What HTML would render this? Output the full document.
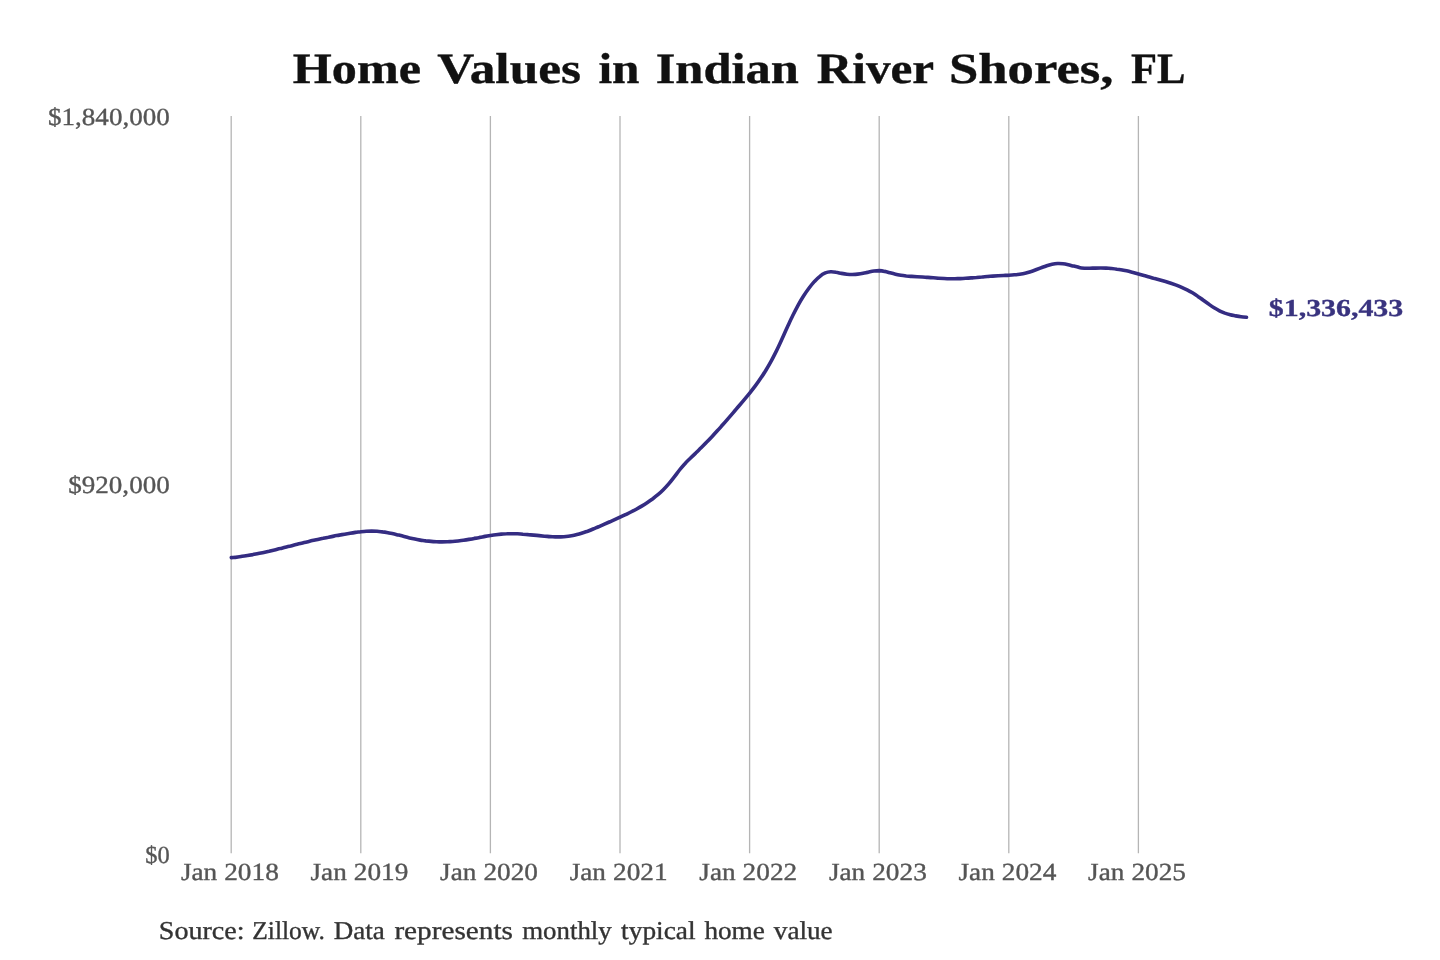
<!DOCTYPE html>
<html lang="en">
<head>
<meta charset="utf-8">
<title>Home Values in Indian River Shores, FL</title>
<style>
html,body{margin:0;padding:0;background:#fff;}
body{width:1440px;height:960px;overflow:hidden;font-family:"Liberation Serif",serif;}
svg{display:block;font-family:"Liberation Serif",serif;}
text{text-rendering:geometricPrecision;}
.t{filter:opacity(1);}
</style>
</head>
<body>
<svg width="1440" height="960" viewBox="0 0 1440 960">
<rect width="1440" height="960" fill="#ffffff"/>

<g stroke="#b5b5b5" stroke-width="1.3">
<line x1="231.2" y1="116" x2="231.2" y2="853.2"/>
<line x1="360.8" y1="116" x2="360.8" y2="853.2"/>
<line x1="490.4" y1="116" x2="490.4" y2="853.2"/>
<line x1="620.0" y1="116" x2="620.0" y2="853.2"/>
<line x1="749.6" y1="116" x2="749.6" y2="853.2"/>
<line x1="879.2" y1="116" x2="879.2" y2="853.2"/>
<line x1="1008.8" y1="116" x2="1008.8" y2="853.2"/>
<line x1="1138.4" y1="116" x2="1138.4" y2="853.2"/>
</g>
<g class="t">
<text y="82.8" font-size="43.2" font-weight="bold" fill="#111111" stroke="#111111" stroke-width="0.35"><tspan x="292.8" textLength="128.2" lengthAdjust="spacingAndGlyphs">Home</tspan> <tspan x="437.3" textLength="143.7" lengthAdjust="spacingAndGlyphs">Values</tspan> <tspan x="598.4" textLength="41.1" lengthAdjust="spacingAndGlyphs">in</tspan> <tspan x="655.7" textLength="143.2" lengthAdjust="spacingAndGlyphs">Indian</tspan> <tspan x="816.7" textLength="116.6" lengthAdjust="spacingAndGlyphs">River</tspan> <tspan x="949.0" textLength="164.5" lengthAdjust="spacingAndGlyphs">Shores,</tspan> <tspan x="1131.0" textLength="54.5" lengthAdjust="spacingAndGlyphs">FL</tspan></text>
</g>
<g class="t">
<text y="124.6" font-size="24.6" font-weight="normal" fill="#555555" stroke="#555555" stroke-width="0.35"><tspan x="48.0" textLength="121.8" lengthAdjust="spacingAndGlyphs">$1,840,000</tspan></text>
<text y="492.6" font-size="24.6" font-weight="normal" fill="#555555" stroke="#555555" stroke-width="0.35"><tspan x="68.2" textLength="101.6" lengthAdjust="spacingAndGlyphs">$920,000</tspan></text>
<text y="863.3" font-size="24.6" font-weight="normal" fill="#555555" stroke="#555555" stroke-width="0.35"><tspan x="145.3" textLength="24.5" lengthAdjust="spacingAndGlyphs">$0</tspan></text>
</g>
<g class="t">
<text y="879.6" font-size="24.6" font-weight="normal" fill="#555555" stroke="#555555" stroke-width="0.35"><tspan x="180.9" textLength="36.3" lengthAdjust="spacingAndGlyphs">Jan</tspan> <tspan x="224.2" textLength="54.6" lengthAdjust="spacingAndGlyphs">2018</tspan></text>
<text y="879.6" font-size="24.6" font-weight="normal" fill="#555555" stroke="#555555" stroke-width="0.35"><tspan x="310.5" textLength="36.3" lengthAdjust="spacingAndGlyphs">Jan</tspan> <tspan x="353.8" textLength="54.6" lengthAdjust="spacingAndGlyphs">2019</tspan></text>
<text y="879.6" font-size="24.6" font-weight="normal" fill="#555555" stroke="#555555" stroke-width="0.35"><tspan x="440.1" textLength="36.3" lengthAdjust="spacingAndGlyphs">Jan</tspan> <tspan x="483.4" textLength="54.6" lengthAdjust="spacingAndGlyphs">2020</tspan></text>
<text y="879.6" font-size="24.6" font-weight="normal" fill="#555555" stroke="#555555" stroke-width="0.35"><tspan x="569.7" textLength="36.3" lengthAdjust="spacingAndGlyphs">Jan</tspan> <tspan x="613.0" textLength="54.6" lengthAdjust="spacingAndGlyphs">2021</tspan></text>
<text y="879.6" font-size="24.6" font-weight="normal" fill="#555555" stroke="#555555" stroke-width="0.35"><tspan x="699.3" textLength="36.3" lengthAdjust="spacingAndGlyphs">Jan</tspan> <tspan x="742.6" textLength="54.6" lengthAdjust="spacingAndGlyphs">2022</tspan></text>
<text y="879.6" font-size="24.6" font-weight="normal" fill="#555555" stroke="#555555" stroke-width="0.35"><tspan x="828.9" textLength="36.3" lengthAdjust="spacingAndGlyphs">Jan</tspan> <tspan x="872.2" textLength="54.6" lengthAdjust="spacingAndGlyphs">2023</tspan></text>
<text y="879.6" font-size="24.6" font-weight="normal" fill="#555555" stroke="#555555" stroke-width="0.35"><tspan x="958.5" textLength="36.3" lengthAdjust="spacingAndGlyphs">Jan</tspan> <tspan x="1001.8" textLength="54.6" lengthAdjust="spacingAndGlyphs">2024</tspan></text>
<text y="879.6" font-size="24.6" font-weight="normal" fill="#555555" stroke="#555555" stroke-width="0.35"><tspan x="1088.1" textLength="36.3" lengthAdjust="spacingAndGlyphs">Jan</tspan> <tspan x="1131.4" textLength="54.6" lengthAdjust="spacingAndGlyphs">2025</tspan></text>
</g>
<path d="M231.3 557.6C232.2 557.5 234.9 557.3 236.7 557.1C238.5 556.8 240.3 556.6 242.1 556.3C243.9 556.1 245.7 555.8 247.5 555.5C249.3 555.2 251.1 554.9 252.9 554.6C254.7 554.2 256.5 553.9 258.3 553.5C260.1 553.1 261.9 552.8 263.7 552.4C265.5 552.0 267.3 551.6 269.1 551.2C270.9 550.7 272.7 550.3 274.5 549.9C276.3 549.5 278.1 549.0 279.9 548.6C281.7 548.1 283.5 547.7 285.3 547.2C287.1 546.8 288.9 546.3 290.7 545.9C292.5 545.4 294.3 545.0 296.1 544.5C297.9 544.1 299.7 543.6 301.5 543.2C303.3 542.8 305.1 542.3 306.9 541.9C308.7 541.5 310.5 541.0 312.3 540.6C314.1 540.2 315.9 539.8 317.7 539.4C319.5 539.0 321.3 538.6 323.1 538.3C324.9 537.9 326.7 537.5 328.5 537.2C330.3 536.8 332.1 536.4 333.9 536.1C335.7 535.8 337.5 535.4 339.3 535.1C341.1 534.8 342.9 534.5 344.7 534.2C346.5 533.9 348.3 533.6 350.1 533.3C351.9 533.0 353.7 532.7 355.5 532.4C357.3 532.2 359.1 531.9 360.9 531.7C362.7 531.5 364.5 531.3 366.3 531.2C368.1 531.1 369.9 531.1 371.7 531.1C373.5 531.1 375.3 531.2 377.1 531.3C378.9 531.5 380.7 531.6 382.5 531.9C384.3 532.1 386.1 532.4 387.9 532.7C389.7 533.1 391.5 533.4 393.3 533.8C395.1 534.2 396.9 534.7 398.7 535.1C400.5 535.6 402.3 536.1 404.1 536.5C405.9 537.0 407.7 537.5 409.5 537.9C411.3 538.3 413.1 538.7 414.9 539.1C416.7 539.5 418.5 539.8 420.3 540.1C422.1 540.4 423.9 540.6 425.7 540.9C427.5 541.1 429.3 541.3 431.1 541.4C432.9 541.6 434.7 541.7 436.5 541.8C438.3 541.8 440.1 541.9 441.9 541.9C443.7 541.9 445.5 541.9 447.3 541.8C449.1 541.7 450.9 541.6 452.7 541.5C454.5 541.4 456.3 541.2 458.1 541.0C459.9 540.8 461.7 540.6 463.5 540.3C465.3 540.0 467.1 539.7 468.9 539.4C470.7 539.1 472.5 538.8 474.3 538.4C476.1 538.1 477.9 537.8 479.7 537.4C481.5 537.1 483.3 536.7 485.1 536.4C486.9 536.1 488.7 535.8 490.5 535.5C492.3 535.2 494.1 534.9 495.9 534.7C497.7 534.5 499.5 534.3 501.3 534.1C503.1 534.0 504.9 533.8 506.7 533.8C508.5 533.7 510.3 533.7 512.1 533.7C513.9 533.7 515.7 533.8 517.5 533.8C519.3 533.9 521.1 534.0 522.9 534.2C524.7 534.3 526.5 534.4 528.3 534.6C530.1 534.7 531.9 534.9 533.7 535.1C535.5 535.3 537.3 535.5 539.1 535.6C540.9 535.8 542.7 536.0 544.5 536.2C546.3 536.3 548.1 536.5 549.9 536.6C551.7 536.7 553.5 536.8 555.3 536.9C557.1 536.9 558.9 536.9 560.7 536.9C562.5 536.8 564.3 536.7 566.1 536.5C567.9 536.4 569.7 536.1 571.5 535.8C573.3 535.5 575.1 535.1 576.9 534.6C578.7 534.2 580.5 533.6 582.3 533.0C584.1 532.5 585.9 531.8 587.7 531.2C589.5 530.5 591.3 529.8 593.1 529.0C594.9 528.3 596.7 527.5 598.5 526.8C600.3 526.0 602.1 525.2 603.9 524.4C605.7 523.6 607.5 522.8 609.3 522.0C611.1 521.2 612.9 520.5 614.7 519.7C616.5 518.9 618.3 518.1 620.1 517.2C621.9 516.4 623.7 515.6 625.5 514.7C627.3 513.8 629.1 513.0 630.9 512.0C632.7 511.1 634.5 510.2 636.3 509.2C638.1 508.2 639.9 507.2 641.7 506.1C643.5 505.0 645.3 503.9 647.1 502.7C648.9 501.5 650.7 500.3 652.5 499.0C654.3 497.6 656.1 496.2 657.9 494.7C659.7 493.2 661.5 491.5 663.3 489.7C665.1 487.9 666.9 486.0 668.7 483.9C670.5 481.8 672.3 479.4 674.1 477.1C675.9 474.8 677.7 472.3 679.5 470.0C681.3 467.8 683.1 465.6 684.9 463.7C686.7 461.7 688.5 460.0 690.3 458.3C692.1 456.5 693.9 454.8 695.7 453.1C697.5 451.3 699.3 449.6 701.1 447.8C702.9 446.0 704.7 444.2 706.5 442.3C708.3 440.5 710.1 438.6 711.9 436.7C713.7 434.8 715.5 432.8 717.3 430.8C719.1 428.9 720.9 426.8 722.7 424.8C724.5 422.8 726.3 420.7 728.1 418.6C729.9 416.6 731.7 414.5 733.5 412.4C735.3 410.3 737.1 408.1 738.9 406.0C740.7 403.9 742.5 401.8 744.3 399.6C746.1 397.5 747.9 395.3 749.7 393.1C751.5 390.9 753.3 388.6 755.1 386.2C756.9 383.8 758.7 381.3 760.5 378.6C762.3 376.0 764.1 373.2 765.9 370.2C767.7 367.3 769.5 364.2 771.3 360.9C773.1 357.6 774.9 354.0 776.7 350.4C778.5 346.7 780.3 342.7 782.1 338.8C783.9 334.8 785.7 330.7 787.5 326.8C789.3 322.9 791.1 318.9 792.9 315.3C794.7 311.6 796.5 308.1 798.3 304.8C800.1 301.6 801.9 298.6 803.7 295.8C805.5 293.0 807.3 290.4 809.1 288.0C810.9 285.6 812.7 283.4 814.5 281.4C816.3 279.5 818.1 277.7 819.9 276.3C821.7 274.8 823.5 273.7 825.3 272.9C827.1 272.2 828.9 271.9 830.7 271.8C832.5 271.7 834.3 272.0 836.1 272.3C837.9 272.5 839.7 273.1 841.5 273.4C843.3 273.7 845.1 274.0 846.9 274.2C848.7 274.4 850.5 274.5 852.3 274.5C854.1 274.4 855.9 274.3 857.7 274.1C859.5 273.9 861.3 273.6 863.1 273.2C864.9 272.9 866.7 272.4 868.5 272.1C870.3 271.7 872.1 271.2 873.9 271.0C875.7 270.8 877.5 270.6 879.3 270.6C881.1 270.7 882.9 271.0 884.7 271.4C886.5 271.7 888.3 272.3 890.1 272.8C891.9 273.3 893.7 273.8 895.5 274.2C897.3 274.7 899.1 275.0 900.9 275.3C902.7 275.6 904.5 275.8 906.3 276.0C908.1 276.1 909.9 276.3 911.7 276.4C913.5 276.5 915.3 276.6 917.1 276.7C918.9 276.8 920.7 276.9 922.5 277.0C924.3 277.1 926.1 277.3 927.9 277.4C929.7 277.5 931.5 277.7 933.3 277.8C935.1 277.9 936.9 278.1 938.7 278.2C940.5 278.3 942.3 278.4 944.1 278.5C945.9 278.6 947.7 278.7 949.5 278.7C951.3 278.7 953.1 278.7 954.9 278.7C956.7 278.7 958.5 278.6 960.3 278.6C962.1 278.5 963.9 278.4 965.7 278.3C967.5 278.2 969.3 278.0 971.1 277.9C972.9 277.8 974.7 277.6 976.5 277.5C978.3 277.3 980.1 277.1 981.9 277.0C983.7 276.8 985.5 276.7 987.3 276.5C989.1 276.4 990.9 276.2 992.7 276.1C994.5 276.0 996.3 275.9 998.1 275.8C999.9 275.7 1001.7 275.6 1003.5 275.5C1005.3 275.4 1007.1 275.4 1008.9 275.2C1010.7 275.1 1012.5 275.0 1014.3 274.8C1016.1 274.7 1017.9 274.5 1019.7 274.2C1021.5 273.9 1023.3 273.6 1025.1 273.2C1026.9 272.8 1028.7 272.3 1030.5 271.7C1032.3 271.2 1034.1 270.5 1035.9 269.8C1037.7 269.1 1039.5 268.4 1041.3 267.7C1043.1 267.1 1044.9 266.4 1046.7 265.8C1048.5 265.2 1050.3 264.7 1052.1 264.3C1053.9 263.9 1055.7 263.6 1057.5 263.5C1059.3 263.4 1061.1 263.5 1062.9 263.7C1064.7 263.9 1066.5 264.3 1068.3 264.7C1070.1 265.1 1071.9 265.7 1073.7 266.1C1075.5 266.6 1077.3 267.1 1079.1 267.4C1080.9 267.8 1082.7 268.0 1084.5 268.2C1086.3 268.3 1088.1 268.2 1089.9 268.2C1091.7 268.2 1093.5 268.1 1095.3 268.1C1097.1 268.0 1098.9 268.0 1100.7 268.0C1102.5 268.0 1104.3 268.0 1106.1 268.1C1107.9 268.2 1109.7 268.4 1111.5 268.5C1113.3 268.7 1115.1 268.9 1116.9 269.2C1118.7 269.4 1120.5 269.7 1122.3 270.0C1124.1 270.4 1125.9 270.7 1127.7 271.1C1129.5 271.5 1131.3 272.0 1133.1 272.4C1134.9 272.9 1136.7 273.4 1138.5 273.9C1140.3 274.4 1142.1 274.9 1143.9 275.4C1145.7 275.9 1147.5 276.5 1149.3 277.0C1151.1 277.5 1152.9 278.0 1154.7 278.6C1156.5 279.1 1158.3 279.6 1160.1 280.1C1161.9 280.6 1163.7 281.1 1165.5 281.6C1167.3 282.1 1169.1 282.7 1170.9 283.3C1172.7 283.9 1174.5 284.5 1176.3 285.1C1178.1 285.8 1179.9 286.5 1181.7 287.3C1183.5 288.1 1185.3 288.9 1187.1 289.8C1188.9 290.7 1190.7 291.7 1192.5 292.8C1194.3 293.9 1196.1 295.1 1197.9 296.4C1199.7 297.6 1201.5 299.0 1203.3 300.2C1205.1 301.5 1206.9 302.9 1208.7 304.1C1210.5 305.4 1212.3 306.7 1214.1 307.8C1215.9 308.9 1217.7 309.9 1219.5 310.8C1221.3 311.7 1223.1 312.4 1224.9 313.1C1226.7 313.7 1228.5 314.2 1230.3 314.7C1232.1 315.2 1233.9 315.5 1235.7 315.9C1237.5 316.2 1239.3 316.5 1241.1 316.7C1242.9 316.9 1245.6 317.2 1246.5 317.3" fill="none" stroke="#342c82" stroke-width="3.6" stroke-linecap="round" stroke-linejoin="round"/>
<g class="t">
<text y="316.3" font-size="24.4" font-weight="bold" fill="#39337f" stroke="#39337f" stroke-width="0.35"><tspan x="1268.8" textLength="134.4" lengthAdjust="spacingAndGlyphs">$1,336,433</tspan></text>
</g>
<g class="t">
<text y="938.9" font-size="25.6" font-weight="normal" fill="#333333" stroke="#333333" stroke-width="0.35"><tspan x="158.8" textLength="85.8" lengthAdjust="spacingAndGlyphs">Source:</tspan> <tspan x="252.3" textLength="72.7" lengthAdjust="spacingAndGlyphs">Zillow.</tspan> <tspan x="333.8" textLength="51.1" lengthAdjust="spacingAndGlyphs">Data</tspan> <tspan x="394.4" textLength="118.5" lengthAdjust="spacingAndGlyphs">represents</tspan> <tspan x="522.2" textLength="89.6" lengthAdjust="spacingAndGlyphs">monthly</tspan> <tspan x="621.1" textLength="74.5" lengthAdjust="spacingAndGlyphs">typical</tspan> <tspan x="704.4" textLength="60.5" lengthAdjust="spacingAndGlyphs">home</tspan> <tspan x="773.8" textLength="58.9" lengthAdjust="spacingAndGlyphs">value</tspan></text>
</g>
</svg>
</body>
</html>
